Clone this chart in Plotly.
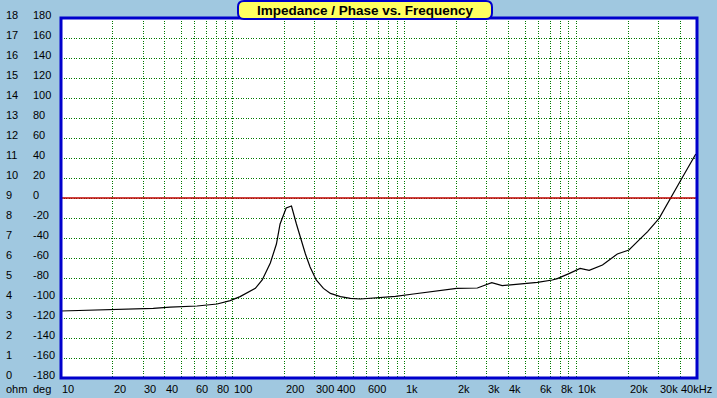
import numpy as np
import plotly.graph_objects as go

# ---- data ----
freq_hz = [10, 13.2, 24.2, 34.4, 43.1, 61.9, 80.9, 96.4, 110, 118, 135, 148, 165, 179, 188, 204, 219,
           234, 247, 264, 281, 305, 336, 369, 422, 482, 551, 674, 882, 1120, 1370, 2000, 2640, 2950,
           3200, 3680, 4500, 5900, 7200, 7700, 9000, 10450, 11800, 14100, 17200, 20100, 22500, 25800,
           30100, 34500, 40300, 49200]
impedance_ohm = [3.35, 3.38, 3.43, 3.48, 3.54, 3.6, 3.7, 3.87, 4.07, 4.2, 4.48, 4.9, 5.75, 6.7, 7.7, 8.5, 8.6,
                 7.7, 7.0, 6.2, 5.55, 4.9, 4.48, 4.23, 4.07, 3.98, 3.95, 4.0, 4.08, 4.2, 4.3, 4.48, 4.5, 4.65,
                 4.77, 4.62, 4.7, 4.78, 4.9, 4.97, 5.22, 5.48, 5.38, 5.65, 6.2, 6.4, 6.82, 7.32,
                 7.98, 8.9, 9.9, 11.2]

ohm_labels = list(range(0, 19))
deg_labels = list(range(-180, 181, 20))
x_tick_vals = [10, 20, 30, 40, 60, 80, 100, 200, 300, 400, 600, 1000, 2000, 3000, 4000, 6000, 8000,
               10000, 20000, 30000, 40000]
x_tick_text = ["10", "20", "30", "40", "60", "80", "100", "200", "300", "400", "600", "1k", "2k", "3k",
               "4k", "6k", "8k", "10k", "20k", "30k", "40kHz"]
x_grid_vals = [m * 10 ** d for d in range(1, 5) for m in range(1, 10) if m * 10 ** d <= 50000]
title_text = "Impedance / Phase vs. Frequency"

# ---- layout geometry (pixels) ----
W, H = 717, 398
L, R, T, B = 61, 697, 18, 378
pw, ph = R - L, B - T
BG = "#a0c8e0"
BLUE = "#0000cc"
GRID = "#007a00"
FONT = "Liberation Sans"


def px2paper(px, py):
    return (px - L) / pw, (B - py) / ph


fig = go.Figure()
fig.add_trace(go.Scatter(x=freq_hz, y=impedance_ohm, mode="lines",
                         line=dict(color="black", width=1.2), hoverinfo="skip", showlegend=False))

fig.update_layout(
    width=W, height=H,
    margin=dict(l=L, r=W - R, t=T, b=H - B, pad=0),
    paper_bgcolor=BG, plot_bgcolor="white",
    font=dict(family=FONT, size=11, color="black"),
    showlegend=False,
    xaxis=dict(type="log", range=[1, np.log10(50000)], tickvals=x_grid_vals, showticklabels=False,
               showgrid=True, gridcolor=GRID, griddash="1px,1.5px", gridwidth=1, zeroline=False,
               ticks="", showline=False),
    yaxis=dict(range=[0, 18], tickvals=ohm_labels, showticklabels=False, showgrid=True,
               gridcolor=GRID, griddash="1px,1.5px", gridwidth=1, zeroline=False, ticks="",
               showline=False),
)

# red zero-phase line (9 ohm / 0 deg)
fig.add_shape(type="line", xref="paper", yref="y", x0=0, x1=1, y0=9, y1=9,
              line=dict(color="#c00000", width=1.5), layer="above")

# plot border
fig.add_shape(type="rect", xref="paper", yref="paper", x0=0, x1=1, y0=0, y1=1,
              line=dict(color=BLUE, width=3), layer="above")

# left labels
for o, d in zip(ohm_labels, deg_labels):
    fig.add_annotation(xref="paper", yref="y", x=(4 - L) / pw, y=o, text=str(o), showarrow=False,
                       xanchor="left", yanchor="middle", yshift=3, font=dict(size=11))
    fig.add_annotation(xref="paper", yref="y", x=(31 - L) / pw, y=o, text=str(d), showarrow=False,
                       xanchor="left", yanchor="middle", yshift=3, font=dict(size=11))

# bottom labels
for txt, px in [("ohm", 4), ("deg", 31)]:
    fig.add_annotation(xref="paper", yref="paper", x=(px - L) / pw, y=(B - 389) / ph, text=txt,
                       showarrow=False, xanchor="left", yanchor="middle", font=dict(size=11))
for v, t in zip(x_tick_vals, x_tick_text):
    fig.add_annotation(xref="x", yref="paper", x=np.log10(v), y=(B - 389) / ph, text=t,
                       showarrow=False, xanchor="left", yanchor="middle", xshift=-1, font=dict(size=11))

# title box with rounded ends (pixel path converted to paper coordinates)
x0p, x1p, y0p, y1p, r = 238, 492, 1, 19, 6
path = (f"M {x0p + r},{y0p} L {x1p - r},{y0p} Q {x1p},{y0p} {x1p},{y0p + r} "
        f"L {x1p},{y1p - r} Q {x1p},{y1p} {x1p - r},{y1p} L {x0p + r},{y1p} "
        f"Q {x0p},{y1p} {x0p},{y1p - r} L {x0p},{y0p + r} Q {x0p},{y0p} {x0p + r},{y0p} Z")
out = []
for tok in path.split(" "):
    if "," in tok:
        a, b = tok.split(",")
        xp, yp = px2paper(float(a), float(b))
        out.append(f"{xp:.5f},{yp:.5f}")
    else:
        out.append(tok)
fig.add_shape(type="path", xref="paper", yref="paper", path=" ".join(out),
              fillcolor="#ffff60", line=dict(color=BLUE, width=2), layer="above")
tx, ty = px2paper((x0p + x1p) / 2, 10)
fig.add_annotation(xref="paper", yref="paper", x=tx, y=ty, text=f"<b>{title_text}</b>",
                   showarrow=False, xanchor="center", yanchor="middle",
                   font=dict(size=13.5, family=FONT, color="black"))

fig.write_html("out.html", config={"displayModeBar": False},
               post_script="document.body.style.margin='0';document.body.style.overflow='hidden';")
